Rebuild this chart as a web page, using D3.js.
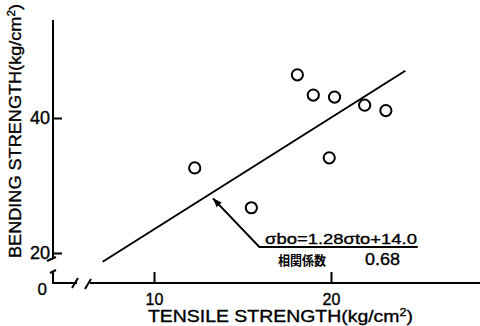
<!DOCTYPE html>
<html>
<head>
<meta charset="utf-8">
<script src="https://cdn.jsdelivr.net/npm/d3@7"></script>
<style>
  html, body { margin: 0; padding: 0; background: #fff; }
  svg { display: block; }
  text { font-family: "Liberation Sans", "DejaVu Sans", sans-serif; fill: #000; stroke: #000; stroke-width: 0.35; }
  .cjk { font-family: "Noto Sans CJK JP", sans-serif; font-weight: 700; stroke-width: 0; }
</style>
</head>
<body>
<svg id="chart" width="480" height="326"></svg>
<script>
// tensile strength (kg/cm2) vs bending strength (kg/cm2)
const tensile = [18.1, 19.0, 20.2, 21.9, 23.1, 19.9, 12.3, 15.5];
const bending = [46.4, 43.4, 43.1, 41.9, 41.1, 34.1, 32.6, 26.7];

// regression line as drawn
const fitX = [7.1, 24.2];
const fitY = [18.7, 47.0];

const xTicks = [10, 20];
const yTicks = [20, 40];

// leader line of the equation: tip on the fit line, elbow, end
const leaderX = [13.33, 15.95, 24.9];
const leaderY = [28.1, 20.9, 20.9];

const equation = "σbo=1.28σto+14.0";
const corrLabel = "相関係数";
const corrValue = "0.68";

const svg = d3.select("#chart");

const x = d3.scaleLinear().domain([10, 20]).range([154, 331]);
const y = d3.scaleLinear().domain([20, 40]).range([253, 118]);

const axisY0 = 283;   // position of the broken zero line
const axisX0 = 53;

// x axis
const gx = svg.append("g").attr("transform", `translate(0,${axisY0})`)
    .call(d3.axisBottom(x).tickValues(xTicks).tickSizeInner(-11).tickSizeOuter(0).tickPadding(11));
gx.select(".domain").remove();
gx.selectAll(".tick line").attr("stroke", "#000").attr("stroke-width", 2);
gx.selectAll(".tick text").attr("font-size", 16).attr("font-family", "Liberation Sans");

// y axis
const gy = svg.append("g").attr("transform", `translate(${axisX0},0)`)
    .call(d3.axisLeft(y).tickValues(yTicks).tickSizeInner(-9).tickSizeOuter(0).tickPadding(3));
gy.select(".domain").remove();
gy.selectAll(".tick line").attr("stroke", "#000").attr("stroke-width", 2);
gy.selectAll(".tick text").attr("font-size", 18).attr("font-family", "Liberation Sans");

const ink = { stroke: "#000", "stroke-width": 2, fill: "none" };
function seg(pts) {
  const p = svg.append("path").attr("d", d3.line()(pts));
  Object.entries(ink).forEach(([k, v]) => p.attr(k, v));
  return p;
}

// main axis lines with the breaks
seg([[axisX0, 20], [axisX0, 258]]);
seg([[47, 261], [56, 257]]);
seg([[50, 273], [56, 270]]);
seg([[axisX0, 271], [axisX0, axisY0], [77, axisY0]]);
seg([[72, 288], [78, 278]]);
seg([[85, 289], [91, 279]]);
seg([[90, axisY0], [480, axisY0]]);

// zero label
svg.append("text").attr("x", 47).attr("y", 295).attr("text-anchor", "end")
  .attr("font-size", 17).text("0");

// regression line
seg(fitX.map((v, i) => [x(v), y(fitY[i])]));

// points
svg.append("g").selectAll("circle")
  .data(tensile.map((t, i) => [t, bending[i]]))
  .join("circle")
  .attr("cx", d => x(d[0]))
  .attr("cy", d => y(d[1]))
  .attr("r", 5.6)
  .attr("fill", "none")
  .attr("stroke", "#000")
  .attr("stroke-width", 2);

// leader with arrowhead
const lp = leaderX.map((v, i) => [x(v), y(leaderY[i])]);
seg(lp);
const tip = lp[0], nxt = lp[1];
const ang = Math.atan2(nxt[1] - tip[1], nxt[0] - tip[0]);
const ah = 9, aw = 3.5;
const bx = tip[0] + ah * Math.cos(ang), by = tip[1] + ah * Math.sin(ang);
svg.append("path")
  .attr("d", d3.line()([tip,
    [bx - aw * Math.sin(ang), by + aw * Math.cos(ang)],
    [bx + aw * Math.sin(ang), by - aw * Math.cos(ang)]]) + "Z")
  .attr("fill", "#000");

// equation text
svg.append("text").attr("x", 265).attr("y", 244)
  .attr("font-size", 15).attr("textLength", 152).attr("lengthAdjust", "spacingAndGlyphs")
  .text(equation);
svg.append("text").attr("class", "cjk").attr("x", 278).attr("y", 265)
  .attr("font-size", 13).attr("textLength", 48).attr("lengthAdjust", "spacingAndGlyphs")
  .text(corrLabel);
svg.append("text").attr("x", 365).attr("y", 265)
  .attr("font-size", 17).attr("textLength", 35).attr("lengthAdjust", "spacingAndGlyphs")
  .text(corrValue);

// axis titles
const xt = svg.append("text").attr("x", 148).attr("y", 322)
  .attr("font-size", 17).attr("textLength", 265).attr("lengthAdjust", "spacingAndGlyphs");
xt.append("tspan").text("TENSILE STRENGTH(kg/cm");
xt.append("tspan").attr("dy", -6).attr("font-size", 11).text("2");
xt.append("tspan").attr("dy", 6).text(")");

const yt = svg.append("text").attr("transform", "translate(21,258) rotate(-90)")
  .attr("font-size", 17).attr("textLength", 254).attr("lengthAdjust", "spacingAndGlyphs");
yt.append("tspan").text("BENDING STRENGTH(kg/cm");
yt.append("tspan").attr("dy", -6).attr("font-size", 11).text("2");
yt.append("tspan").attr("dy", 6).text(")");
</script>
</body>
</html>
